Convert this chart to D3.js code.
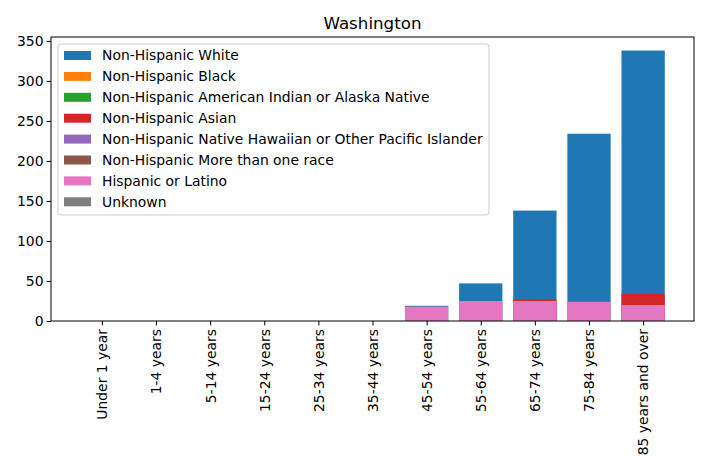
<!DOCTYPE html>
<html>
<head>
<meta charset="utf-8">
<script src="https://cdn.jsdelivr.net/npm/d3@7"></script>
<style>
  body { margin: 0; background: #fff; }
  svg, svg text { font-family: "DejaVu Sans", sans-serif; }
</style>
</head>
<body>
<div id="chart"></div>
<script>
// Age groups on the x axis
const ageGroups = ["Under 1 year", "1-4 years", "5-14 years", "15-24 years", "25-34 years",
  "35-44 years", "45-54 years", "55-64 years", "65-74 years", "75-84 years", "85 years and over"];

// Series names and colours (matplotlib tab10)
const seriesNames = ["Non-Hispanic White", "Non-Hispanic Black",
  "Non-Hispanic American Indian or Alaska Native", "Non-Hispanic Asian",
  "Non-Hispanic Native Hawaiian or Other Pacific Islander", "Non-Hispanic More than one race",
  "Hispanic or Latino", "Unknown"];
const seriesColors = ["#1f77b4", "#ff7f0e", "#2ca02c", "#d62728", "#9467bd", "#8c564b", "#e377c2", "#7f7f7f"];

// Values per series, each bar drawn from zero (later series drawn over earlier ones)
const white    = [0, 0, 0, 0, 0, 0, 19, 47, 138, 234, 338];
const black    = [0, 0, 0, 0, 0, 0, 0, 0, 0, 0, 0];
const aian     = [0, 0, 0, 0, 0, 0, 0, 0, 0, 0, 0];
const asian    = [0, 0, 0, 0, 0, 0, 0, 0, 27, 0, 34];
const nhpi     = [0, 0, 0, 0, 0, 0, 0, 0, 0, 0, 0];
const multi    = [0, 0, 0, 0, 0, 0, 0, 0, 0, 0, 0];
const hispanic = [0, 0, 0, 0, 0, 0, 18, 25, 25, 24, 20];
const unknown  = [0, 0, 0, 0, 0, 0, 0, 0, 0, 0, 0];
const seriesValues = [white, black, aian, asian, nhpi, multi, hispanic, unknown];

const yTicks = [0, 50, 100, 150, 200, 250, 300, 350];

const W = 708, H = 472;
const margin = { top: 37, right: 14, bottom: 151, left: 51 };
const w = W - margin.left - margin.right;
const h = H - margin.top - margin.bottom;
const fs = "13.9px";

const svg = d3.select("#chart").append("svg")
  .attr("width", W).attr("height", H);

const g = svg.append("g").attr("transform", `translate(${margin.left},${margin.top})`);

// matplotlib-like x limits: bars of width 0.8 plus 5% margins
const n = ageGroups.length;
const lo = -0.4, hi = n - 1 + 0.4, pad = (hi - lo) * 0.05;
const x = d3.scaleLinear().domain([lo - pad, hi + pad]).range([0, w]);

const maxVal = d3.max(seriesValues.flat());
const y = d3.scaleLinear().domain([0, maxVal * 1.05]).range([h, 0]);

// Bars
seriesValues.forEach((vals, si) => {
  g.append("g").selectAll("rect")
    .data(vals)
    .enter().append("rect")
    .attr("x", (d, i) => x(i - 0.4))
    .attr("width", x(0.8) - x(0))
    .attr("y", d => y(d))
    .attr("height", d => y(0) - y(d))
    .attr("fill", seriesColors[si]);
});

// Axes
const xAxis = d3.axisBottom(x)
  .tickValues(d3.range(n))
  .tickFormat(i => ageGroups[i])
  .tickSize(4.5).tickPadding(4);
const xg = g.append("g").attr("transform", `translate(0,${h})`).call(xAxis)
  .attr("font-family", null).attr("font-size", null);
xg.select(".domain").remove();
xg.selectAll("text")
  .attr("transform", "rotate(-90)")
  .attr("text-anchor", "end")
  .attr("x", -8).attr("y", 0).attr("dy", "0.35em")
  .style("font-size", fs).attr("fill", "#000");

const yAxis = d3.axisLeft(y).tickValues(yTicks).tickSize(4.5).tickPadding(3);
const yg = g.append("g").call(yAxis)
  .attr("font-family", null).attr("font-size", null);
yg.select(".domain").remove();
yg.selectAll("text").style("font-size", fs).attr("fill", "#000");

// Frame
g.append("rect")
  .attr("x", 0).attr("y", 0).attr("width", w).attr("height", h)
  .attr("fill", "none").attr("stroke", "#000").attr("stroke-width", 1);

// Title
svg.append("text")
  .attr("x", margin.left + w / 2).attr("y", 29)
  .attr("text-anchor", "middle")
  .style("font-size", "16.7px")
  .text("Washington");

// Legend
const leg = g.append("g").attr("transform", "translate(7,7)");
leg.append("rect")
  .attr("x", 0).attr("y", 0).attr("width", 431).attr("height", 171)
  .attr("rx", 3).attr("fill", "#fff").attr("fill-opacity", 0.8)
  .attr("stroke", "#ccc");
seriesNames.forEach((name, i) => {
  const row = leg.append("g").attr("transform", `translate(0,${7 + i * 20.9})`);
  row.append("rect").attr("x", 6).attr("y", 0).attr("width", 27).attr("height", 9)
    .attr("fill", seriesColors[i]);
  row.append("text").attr("x", 44).attr("y", 4.5).attr("dy", "0.35em")
    .style("font-size", fs).text(name);
});
</script>
</body>
</html>
